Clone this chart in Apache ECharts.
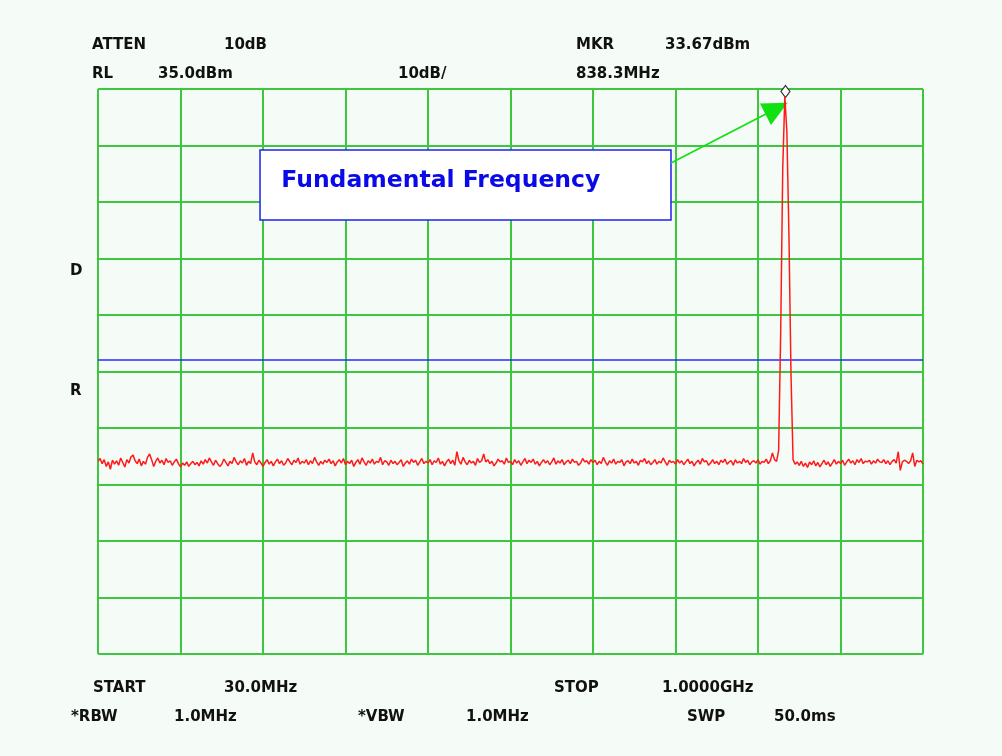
<!DOCTYPE html>
<html>
<head>
<meta charset="utf-8">
<script src="https://cdn.jsdelivr.net/npm/echarts@6/dist/echarts.min.js"></script>
<style>
html,body{margin:0;padding:0;background:#f5fbf7;}
#chart{width:1002px;height:756px;}
</style>
</head>
<body>
<div id="chart"></div>
<script>
// Sweep settings (MHz) and reference level (dBm)
const startFreq = 30.0;
const stopFreq = 1000.0;
const refLevel = 35.0;
const dbPerDiv = 10;
const divisions = 10;
// Trace levels (dBm), 401 sweep points read from the display
const traceLevels = [
-30.9,-30.4,-31.3,-30.6,-31.8,-31.0,-32.3,-30.7,-31.4,-30.8,-31.6,-30.3,-31.1,-31.9,-30.6,-31.2,-30.1,-29.8,-30.8,-31.3,
-30.5,-31.7,-30.9,-31.4,-30.2,-29.6,-30.6,-31.8,-30.9,-30.3,-31.2,-30.7,-31.5,-30.4,-31.1,-30.8,-31.6,-31.0,-30.5,-31.3,
-31.9,-31.2,-31.6,-31.0,-31.8,-31.3,-30.9,-31.5,-31.1,-31.7,-30.8,-31.4,-30.6,-31.2,-30.3,-31.0,-31.6,-30.7,-31.3,-31.8,
-31.4,-30.5,-31.1,-31.7,-30.9,-31.3,-30.2,-31.0,-31.5,-30.8,-31.2,-30.4,-31.6,-30.9,-31.3,-29.4,-31.0,-31.5,-30.7,-31.2,
-31.8,-31.1,-30.6,-31.4,-30.9,-31.7,-31.0,-30.5,-31.3,-30.8,-31.6,-31.2,-30.4,-31.0,-31.5,-30.7,-31.1,-30.3,-31.4,-30.9,
-31.2,-30.6,-31.5,-30.8,-31.3,-30.2,-31.0,-31.6,-30.9,-31.4,-30.7,-31.1,-30.5,-31.3,-30.8,-31.7,-31.0,-30.6,-31.2,-30.4,
-31.5,-30.9,-31.3,-30.7,-31.8,-31.1,-30.6,-31.4,-30.3,-31.0,-31.6,-30.8,-31.2,-30.5,-31.4,-30.9,-31.1,-30.2,-31.5,-30.8,
-31.0,-31.6,-30.7,-31.3,-30.9,-31.5,-31.1,-30.6,-31.8,-31.2,-30.8,-31.4,-30.5,-31.1,-30.7,-31.6,-31.0,-30.4,-31.3,-30.9,
-31.2,-30.6,-31.5,-30.8,-31.1,-30.3,-31.4,-30.9,-31.7,-31.0,-30.5,-31.3,-30.7,-31.6,-29.2,-30.8,-31.4,-30.2,-31.0,-31.5,
-30.7,-31.2,-30.9,-31.6,-30.4,-31.1,-30.8,-29.6,-31.0,-30.6,-31.3,-30.9,-31.7,-31.2,-30.5,-31.0,-30.8,-31.4,-30.3,-31.1,
-30.9,-31.5,-30.6,-31.2,-30.8,-31.6,-31.0,-30.4,-31.3,-30.7,-31.1,-30.5,-31.4,-30.9,-31.7,-31.1,-30.6,-31.2,-30.8,-31.5,
-31.0,-30.3,-31.4,-30.8,-31.2,-30.6,-31.5,-31.0,-30.7,-31.3,-30.5,-31.1,-30.9,-31.6,-31.2,-30.4,-31.0,-30.8,-31.4,-30.6,
-31.1,-30.7,-31.5,-30.9,-31.3,-30.2,-31.0,-31.6,-30.8,-31.2,-30.5,-31.4,-30.9,-31.1,-30.6,-31.7,-31.0,-30.8,-31.3,-30.5,
-31.2,-30.9,-31.6,-30.7,-31.0,-30.4,-31.3,-30.8,-31.5,-31.1,-30.6,-31.4,-30.9,-31.2,-30.3,-31.0,-31.6,-30.7,-31.1,-30.9,
-31.4,-30.6,-31.2,-30.8,-31.5,-31.0,-30.5,-31.3,-30.9,-31.7,-31.1,-30.7,-31.4,-30.4,-31.0,-30.8,-31.6,-31.2,-30.6,-31.3,
-30.9,-31.5,-30.7,-31.1,-30.5,-31.4,-31.0,-30.8,-31.6,-30.6,-31.2,-30.9,-31.3,-30.4,-31.1,-30.7,-31.5,-31.0,-30.8,-31.2,
-30.6,-31.4,-30.9,-31.1,-30.5,-31.3,-30.8,-29.4,-30.6,-30.9,-29.0,-8.0,21.0,33.67,27.4,9.2,-15.6,-30.6,-31.4,-31.0,
-31.6,-30.9,-31.8,-31.2,-32.0,-31.0,-31.5,-30.8,-31.7,-31.1,-31.9,-31.3,-30.7,-31.5,-31.0,-31.8,-31.2,-30.6,-31.4,-30.9,
-31.3,-30.7,-31.6,-31.0,-30.5,-31.2,-30.8,-31.5,-30.6,-31.1,-30.4,-31.3,-30.9,-31.0,-30.7,-31.4,-30.8,-31.2,-30.5,-31.0,
-31.1,-30.6,-31.3,-30.8,-31.5,-30.9,-30.6,-31.2,-29.2,-32.5,-31.0,-30.7,-30.9,-31.3,-30.8,-29.4,-31.8,-30.7,-31.0,-30.8,
-31.4
];
// Marker
const markerFreq = 838.3;
const markerLevel = 33.67;
// Display line (dBm)
const displayLine = -13;
// Annotation
const annotationText = 'Fundamental Frequency';
const annotationBox = [[220.5, 24.2], [703.7, 11.8]];
const annotationArrow = [[703.7, 21.9], [827.8, 31.55]];
// Screen annotations
const headerTexts = [
  ['ATTEN', 92, 44], ['10dB', 224, 44], ['MKR', 576, 44], ['33.67dBm', 665, 44],
  ['RL', 92, 73], ['35.0dBm', 158, 73], ['10dB/', 398, 73], ['838.3MHz', 576, 73],
  ['START', 93, 687], ['30.0MHz', 224, 687], ['STOP', 554, 687], ['1.0000GHz', 662, 687],
  ['*RBW', 71, 716], ['1.0MHz', 174, 716], ['*VBW', 358, 716], ['1.0MHz', 466, 716],
  ['SWP', 687, 716], ['50.0ms', 774, 716],
  ['D', 70, 270], ['R', 70, 390]
];

const bottomLevel = refLevel - dbPerDiv * divisions;
const step = (stopFreq - startFreq) / (traceLevels.length - 1);
const traceData = traceLevels.map((v, i) => [startFreq + i * step, v]);

const green = '#3fc63f';
const chart = echarts.init(document.getElementById('chart'), null, {renderer: 'canvas'});
const option = {
  backgroundColor: '#f5fbf7',
  animation: false,
  grid: {left: 98, top: 89, width: 825, height: 565, show: false},
  xAxis: [
    {type: 'value', min: 0, max: divisions, interval: 1, position: 'bottom',
     axisLine: {show: false}, axisTick: {show: false}, axisLabel: {show: false},
     splitLine: {show: true, lineStyle: {color: green, width: 2}}},
    {type: 'value', min: startFreq, max: stopFreq, show: false}
  ],
  yAxis: [
    {type: 'value', min: 0, max: divisions, interval: 1,
     axisLine: {show: false}, axisTick: {show: false}, axisLabel: {show: false},
     splitLine: {show: true, lineStyle: {color: green, width: 2}}},
    {type: 'value', min: bottomLevel, max: refLevel, show: false}
  ],
  series: [{
    type: 'line',
    xAxisIndex: 1, yAxisIndex: 1,
    data: traceData,
    showSymbol: false,
    symbol: 'none',
    lineStyle: {color: '#ff1a1a', width: 1.5},
    z: 5,
    markLine: {
      silent: true,
      symbol: ['none', 'none'],
      label: {show: false},
      animation: false,
      data: [
        {yAxis: displayLine, lineStyle: {color: '#2828ff', width: 1.6, type: 'solid'}},
        [
          {coord: annotationArrow[0], symbol: 'none', lineStyle: {color: '#11e011', width: 1.6, type: 'solid'}},
          {coord: annotationArrow[1], symbol: 'triangle', symbolSize: [24, 25], itemStyle: {color: '#11ee11'}}
        ]
      ]
    },
    markArea: {
      silent: true,
      itemStyle: {color: '#ffffff', borderColor: '#2020ee', borderWidth: 1.5},
      label: {
        show: true, position: [22, 32], verticalAlign: 'middle', align: 'left',
        color: '#0a0ae8', fontSize: 23.5, fontWeight: 'bold', fontFamily: 'DejaVu Sans'
      },
      data: [[{name: annotationText, coord: annotationBox[0]}, {coord: annotationBox[1]}]]
    },
    markPoint: {
      silent: true,
      symbol: 'diamond',
      symbolSize: [9, 12],
      symbolOffset: [0, -5],
      label: {show: false},
      itemStyle: {color: '#ffffff', borderColor: '#333333', borderWidth: 1.2},
      data: [{coord: [markerFreq, markerLevel]}]
    }
  }],
  graphic: headerTexts.map(t => ({
    type: 'text', left: t[1], top: t[2] - 6,
    style: {text: t[0], fill: '#111', font: 'bold 15px "DejaVu Sans"'}
  }))
};
chart.setOption(option);
</script>
</body>
</html>
